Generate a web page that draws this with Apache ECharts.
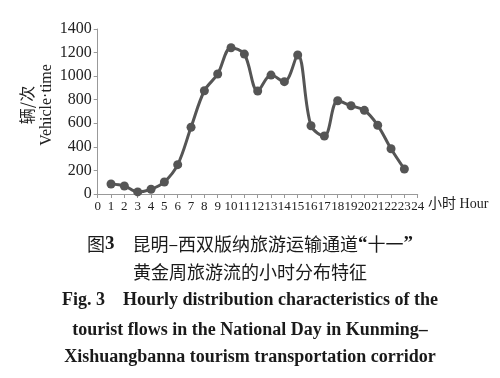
<!DOCTYPE html>
<html><head><meta charset="utf-8">
<script src="https://cdn.jsdelivr.net/npm/echarts@6/dist/echarts.min.js"></script>
<style>html,body{margin:0;padding:0;background:#fff}#c{width:500px;height:378px}</style>
</head><body><div id="c"></div>
<script>
const hours = ['0','1','2','3','4','5','6','7','8','9','10','11','12','13','14','15','16','17','18','19','20','21','22','23','24'];
const flowHours = [1,2,3,4,5,6,7,8,9,10,11,12,13,14,15,16,17,18,19,20,21,22,23];
const flowValues = [85,68,18,40,102,249,566,876,1018,1241,1187,874,1009,953,1179,579,492,791,749,710,583,384,212];
const yTicks = [0,200,400,600,800,1000,1200,1400];
const captionLines = [
  '{a|图}{b|3}{a|\u2003昆明–西双版纳旅游运输通道}{b|“}{a|十一}{b|”}',
  '黄金周旅游流的小时分布特征',
  'Fig. 3\u2002\u2002Hourly distribution characteristics of the',
  'tourist flows in the National Day in Kunming–',
  'Xishuangbanna tourism transportation corridor'
];

const chart = echarts.init(document.getElementById('c'), null, {renderer:'canvas'});
const serif = '"Liberation Serif","DejaVu Serif",serif';
const cjk = '"Noto Sans CJK SC"';
const seriesData = flowHours.map((h,i)=>[h, flowValues[i]]);
const capY = [244, 272, 300, 330, 357];
const graphics = [
  {type:'text', x:27, y:105, rotation:Math.PI/2, style:{text:'辆/次', font:'16px '+cjk, fill:'#222', textAlign:'center', textVerticalAlign:'middle'}},
  {type:'text', x:47, y:105, rotation:Math.PI/2, style:{text:'Vehicle·time', font:'16px '+serif, fill:'#222', textAlign:'center', textVerticalAlign:'middle'}}
];
captionLines.forEach((t,i)=>{
  const st = {
    text:t, x:250, y:capY[i], align:'center', verticalAlign:'middle', fill:'#1a1a1a',
    font: i<2 ? '18px '+cjk : 'bold 18px '+serif
  };
  if (i===0) {
    st.rich = {
      a:{font:'18px '+cjk, fill:'#1a1a1a'},
      b:{font:'bold 19px '+serif, fill:'#1a1a1a'}
    };
  }
  graphics.push({type:'text', style:st});
});

chart.setOption({
  animation:false,
  grid:{left:97.7, right:82.3, top:29, bottom:184},
  xAxis:{
    type:'value', min:0, max:24, interval:1,
    axisLine:{lineStyle:{color:'#999', width:1}},
    axisTick:{length:4, lineStyle:{color:'#999'}},
    splitLine:{show:false},
    axisLabel:{color:'#222', fontFamily:serif, fontSize:13, margin:6,
      formatter:v=>hours[v]},
    name:'小时 Hour', nameLocation:'end', nameGap:9,
    nameTextStyle:{color:'#222', fontFamily:serif+','+cjk, fontSize:14, verticalAlign:'top', padding:[3,0,0,0]}
  },
  yAxis:{
    type:'value', min:0, max:1400, interval:200,
    axisLine:{show:true, lineStyle:{color:'#999', width:1}},
    axisTick:{show:true, length:4, lineStyle:{color:'#999'}},
    splitLine:{show:false},
    axisLabel:{color:'#222', fontFamily:serif, fontSize:16, margin:6,
      formatter:v=>yTicks.includes(v)?String(v):''}
  },
  series:[{
    type:'line', data:seriesData, smooth:0.35,
    symbol:'circle', symbolSize:9,
    lineStyle:{color:'#555', width:3},
    itemStyle:{color:'#555'}
  }],
  graphic:graphics
});
</script></body></html>
